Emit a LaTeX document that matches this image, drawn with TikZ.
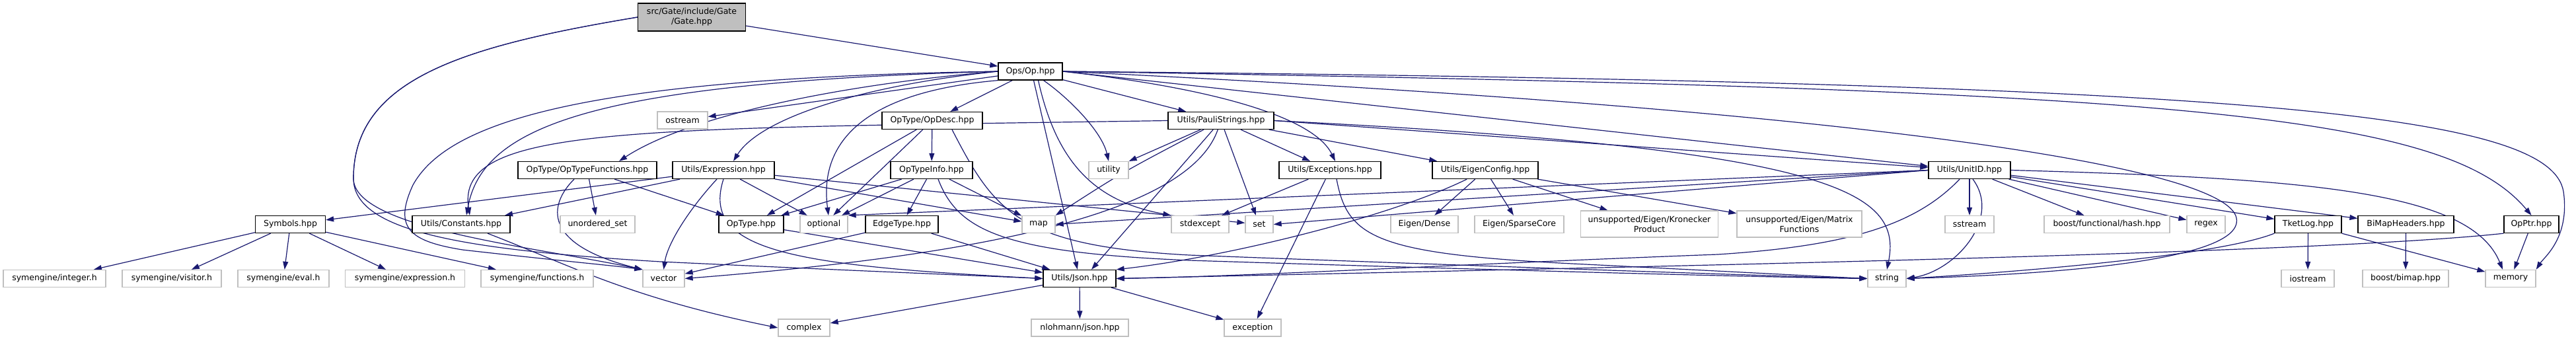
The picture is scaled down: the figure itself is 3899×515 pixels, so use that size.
\documentclass[tikz,border=0pt]{standalone}
\usepackage{fontspec}
\setmainfont{DejaVu Sans}
\usepackage{xcolor}
\definecolor{EdgeBlue}{HTML}{191970}
\definecolor{ExtBorder}{HTML}{BFBFBF}
\definecolor{CurFill}{HTML}{BFBFBF}
\usepackage{tikz}
\usetikzlibrary{arrows.meta}
\pgfdeclarelayer{edges}
\pgfsetlayers{edges,main}

\begin{document}
\begin{tikzpicture}[x=1pt, y=-1pt, >={Triangle[length=12pt,width=8pt]},
  every node/.style={font=\fontsize{12.5}{15}\selectfont, align=center, inner xsep=0pt, inner ysep=2pt, minimum height=26pt},
  hdr/.style={draw=black, line width=1.3pt, fill=white},
  sys/.style={draw=ExtBorder, line width=1.3pt, fill=white},
  cur/.style={draw=black, line width=1.3pt, fill=CurFill},
  dep/.style={->, draw=EdgeBlue, line width=1.2pt}]
  % rows of headers
  \node[cur, minimum width=163pt, minimum height=42pt] (gate) at (1047,26) {src/Gate/include/Gate\\/Gate.hpp};
  \node[hdr, minimum width=97pt] (op) at (1559.5,108) {Ops/Op.hpp};
  \node[sys, minimum width=76pt] (ostream) at (1033,182) {ostream};
  \node[hdr, minimum width=152pt] (opdesc) at (1411,182.5) {OpType/OpDesc.hpp};
  \node[hdr, minimum width=160pt] (pauli) at (1848,182.5) {Utils/PauliStrings.hpp};
  \node[hdr, minimum width=210pt] (optfun) at (889,257.5) {OpType/OpTypeFunctions.hpp};
  \node[hdr, minimum width=154pt] (expr) at (1095,257.5) {Utils/Expression.hpp};
  \node[hdr, minimum width=124pt] (optinfo) at (1410,257.5) {OpTypeInfo.hpp};
  \node[sys, minimum width=60pt] (utility) at (1678,257.5) {utility};
  \node[hdr, minimum width=154pt] (excep) at (2013,257.5) {Utils/Exceptions.hpp};
  \node[hdr, minimum width=160pt] (eigcfg) at (2248,257.5) {Utils/EigenConfig.hpp};
  \node[hdr, minimum width=124pt] (unitid) at (2981,257.5) {Utils/UnitID.hpp};
  \node[hdr, minimum width=106pt] (symbols) at (439.5,339.5) {Symbols.hpp};
  \node[hdr, minimum width=148pt] (consts) at (698,339.5) {Utils/Constants.hpp};
  \node[sys, minimum width=113pt] (uset) at (904.5,339.5) {unordered\_set};
  \node[hdr, minimum width=98pt] (optype) at (1137,339.5) {OpType.hpp};
  \node[sys, minimum width=72pt] (optional) at (1247,339.5) {optional};
  \node[hdr, minimum width=110pt] (edgetype) at (1365,339.5) {EdgeType.hpp};
  \node[sys, minimum width=50pt] (map) at (1572,339.5) {map};
  \node[sys, minimum width=87pt] (stdexcept) at (1816.5,339.5) {stdexcept};
  \node[sys, minimum width=42pt] (set) at (1906,339.5) {set};
  \node[sys, minimum width=102pt] (eigdense) at (2156,339.5) {Eigen/Dense};
  \node[sys, minimum width=135pt] (eigsparse) at (2299.5,339.5) {Eigen/SparseCore};
  \node[sys, minimum width=208pt, minimum height=40pt] (kron) at (2496.5,339) {unsupported/Eigen/Kronecker\\Product};
  \node[sys, minimum width=189pt, minimum height=40pt] (matfun) at (2723.5,339) {unsupported/Eigen/Matrix\\Functions};
  \node[sys, minimum width=74pt] (sstream) at (2981,339.5) {sstream};
  \node[sys, minimum width=190pt] (bhash) at (3189,339.5) {boost/functional/hash.hpp};
  \node[sys, minimum width=58pt] (regex) at (3339,339.5) {regex};
  \node[hdr, minimum width=101pt] (tketlog) at (3493.5,339.5) {TketLog.hpp};
  \node[hdr, minimum width=145pt] (bimaphdr) at (3641.5,339.5) {BiMapHeaders.hpp};
  \node[hdr, minimum width=83pt] (opptr) at (3831.5,339.5) {OpPtr.hpp};
  \node[sys, minimum width=155pt] (symint) at (82.5,421.5) {symengine/integer.h};
  \node[sys, minimum width=150pt] (symvis) at (260,421.5) {symengine/visitor.h};
  \node[sys, minimum width=138pt] (symeval) at (429,421.5) {symengine/eval.h};
  \node[sys, minimum width=181pt] (symexpr) at (613,421.5) {symengine/expression.h};
  \node[sys, minimum width=170pt] (symfun) at (813,421.5) {symengine/functions.h};
  \node[sys, minimum width=63pt] (vector) at (1004.5,421.5) {vector};
  \node[hdr, minimum width=110pt] (json) at (1634,421.5) {Utils/Json.hpp};
  \node[sys, minimum width=58pt] (string) at (2856,421.5) {string};
  \node[sys, minimum width=80pt] (iostream) at (3493,421.5) {iostream};
  \node[sys, minimum width=130pt] (bimap) at (3641,421.5) {boost/bimap.hpp};
  \node[sys, minimum width=76pt] (memory) at (3800,421.5) {memory};
  \node[sys, minimum width=78pt] (complex) at (1217,496) {complex};
  \node[sys, minimum width=147pt] (nlohmann) at (1634.5,496) {nlohmann/json.hpp};
  \node[sys, minimum width=86pt] (exception) at (1896,496) {exception};
  \begin{pgfonlayer}{edges}
  \fill[white] (0,0) rectangle (3899,515);
  % Gate.hpp
  \draw[dep] (gate) -- (op);
  \draw[dep] (gate.west) .. controls (700,70) and (535,120) .. (535,270) .. controls (535,345) and (800,372) .. (vector.north west);
  \draw[dep] (gate.west) .. controls (700,70) and (535,120) .. (535,270) .. controls (535,350) and (700,378) .. (1000,396) .. controls (1300,410) and (1500,418) .. (json.west);
  % Ops/Op.hpp
  \draw[dep] (op) -- (ostream);
  \draw[dep] (op.west) .. controls (1300,125) and (1050,170) .. ([xshift=48pt]optfun.north);
  \draw[dep] (op.west) .. controls (1300,130) and (1150,180) .. ([xshift=15pt]expr.north);
  \draw[dep] (op.west) .. controls (900,125) and (730,190) .. ([xshift=8pt]consts.north);
  \draw[dep] (op.west) .. controls (900,118) and (680,180) .. (625,280) .. controls (595,345) and (620,365) .. (700,378) .. controls (850,395) and (930,402) .. (vector.north west);
  \draw[dep] (op) -- (opdesc);
  \draw[dep] (op) -- (pauli);
  \draw[dep] (op.south west) .. controls (1300,140) and (1240,220) .. ([xshift=7pt]optional.north);
  \draw[dep] ([xshift=5pt]op.south) -- (json);
  \draw[dep] ([xshift=12pt]op.south) .. controls (1600,250) and (1660,305) .. (stdexcept.north west);
  \draw[dep] ([xshift=20pt]op.south) .. controls (1620,150) and (1668,200) .. (utility.north);
  \draw[dep] (op.east) .. controls (1850,135) and (1990,180) .. ([xshift=8pt]excep.north);
  \draw[dep] (op.east) -- ([yshift=6pt]unitid.west);
  \draw[dep] (op.east) .. controls (3300,135) and (3700,170) .. (opptr.north);
  \draw[dep] (op.east) .. controls (3400,125) and (3860,170) .. (3880,290) .. controls (3890,360) and (3850,390) .. (memory.north east);
  \draw[dep] (op.east) .. controls (2800,165) and (3370,250) .. (3385,330) .. controls (3400,405) and (3000,418) .. (string.east);
  % OpType/OpDesc.hpp
  \draw[dep] (opdesc) -- (optype);
  \draw[dep] (opdesc) -- (optional);
  \draw[dep] (opdesc) -- (optinfo);
  \draw[dep] ([xshift=30pt]opdesc.south) .. controls (1505,320) and (1540,372) .. (1800,386) .. controls (2300,405) and (2700,418) .. (string.west);
  % Utils/PauliStrings.hpp
  \draw[dep] (pauli.west) .. controls (950,195) and (690,190) .. ([xshift=13pt]consts.north);
  \draw[dep] (pauli) -- (utility);
  \draw[dep] (pauli) .. controls (1700,260) .. (map.north east);
  \draw[dep] (pauli) .. controls (1800,320) and (1500,385) .. (vector.east);
  \draw[dep] (pauli) -- ([xshift=18pt]json.north);
  \draw[dep] (pauli) -- (set);
  \draw[dep] (pauli) -- (excep);
  \draw[dep] (pauli) -- (eigcfg);
  \draw[dep] (pauli.east) -- ([yshift=4pt]unitid.west);
  \draw[dep] (pauli.east) .. controls (2780,225) and (2880,290) .. (string.north);
  % OpType/OpTypeFunctions.hpp
  \draw[dep] (optfun) -- (optype);
  \draw[dep] (optfun) -- (uset);
  \draw[dep] ([xshift=-20pt]optfun.south) .. controls (830,310) and (820,370) .. (vector.north west);
  % Utils/Expression.hpp
  \draw[dep] (expr) -- (symbols);
  \draw[dep] (expr) -- (consts);
  \draw[dep] ([xshift=-10pt]expr.south) .. controls (1040,320) and (1010,370) .. (vector.north);
  \draw[dep] (expr.south) .. controls (1060,380) and (1200,402) .. (json.west);
  \draw[dep] (expr) -- (optional);
  \draw[dep] (expr) -- (map);
  \draw[dep] (expr) -- (set);
  % OpTypeInfo.hpp
  \draw[dep] (optinfo) -- (optype);
  \draw[dep] (optinfo) -- (optional);
  \draw[dep] (optinfo) -- (edgetype);
  \draw[dep] (optinfo) -- (map);
  \draw[dep] ([xshift=10pt]optinfo.south) .. controls (1450,350) and (1520,382) .. (1800,394) .. controls (2300,410) and (2700,420) .. (string.west);
  % Utils/Exceptions.hpp
  \draw[dep] (excep) -- (stdexcept);
  \draw[dep] (excep) -- (exception);
  \draw[dep] ([xshift=10pt]excep.south) .. controls (2040,360) and (2080,385) .. (2400,400) .. controls (2600,410) and (2750,418) .. (string.west);
  % Utils/EigenConfig.hpp
  \draw[dep] (eigcfg) .. controls (2100,330) and (1850,390) .. (json.north east);
  \draw[dep] (eigcfg) -- (eigdense);
  \draw[dep] (eigcfg) -- (eigsparse);
  \draw[dep] (eigcfg) -- (kron);
  \draw[dep] (eigcfg) -- (matfun);
  % Utils/UnitID.hpp
  \draw[dep] (unitid.west) -- (optional.north east);
  \draw[dep] (unitid.west) -- (map.east);
  \draw[dep] (unitid.west) -- (set.east);
  \draw[dep] ([xshift=-15pt]unitid.south) .. controls (2900,340) and (2800,372) .. (2600,385) .. controls (2200,400) and (1900,418) .. (json.east);
  \draw[dep] ([xshift=5pt]unitid.south) .. controls (3030,330) and (2960,410) .. (string.east);
  \draw[dep] (unitid) -- (sstream);
  \draw[dep] (unitid) -- (bhash);
  \draw[dep] (unitid) -- (regex);
  \draw[dep] (unitid) -- (tketlog);
  \draw[dep] (unitid) -- (bimaphdr);
  \draw[dep] (unitid.east) .. controls (3500,270) and (3740,290) .. ([xshift=-12pt]memory.north);
  % lower headers
  \draw[dep] (symbols) -- (symint);
  \draw[dep] (symbols) -- (symvis);
  \draw[dep] (symbols) -- (symeval);
  \draw[dep] (symbols) -- (symexpr);
  \draw[dep] (symbols) -- (symfun);
  \draw[dep] ([xshift=40pt]consts.south) .. controls (860,400) and (950,450) .. (complex.west);
  \draw[dep] (optype) -- (json);
  \draw[dep] (edgetype) -- (vector);
  \draw[dep] (edgetype) -- (json);
  \draw[dep] (json) -- (complex);
  \draw[dep] (json) -- (nlohmann);
  \draw[dep] (json) -- (exception);
  \draw[dep] (tketlog.south west) .. controls (3350,390) and (3000,415) .. (string.east);
  \draw[dep] (tketlog) -- (iostream);
  \draw[dep] (tketlog) -- (memory);
  \draw[dep] (bimaphdr) -- (bimap);
  \draw[dep] (opptr.south west) .. controls (3500,385) and (2400,405) .. (json.east);
  \draw[dep] (opptr) -- (memory);
  \end{pgfonlayer}
\end{tikzpicture}
\end{document}
